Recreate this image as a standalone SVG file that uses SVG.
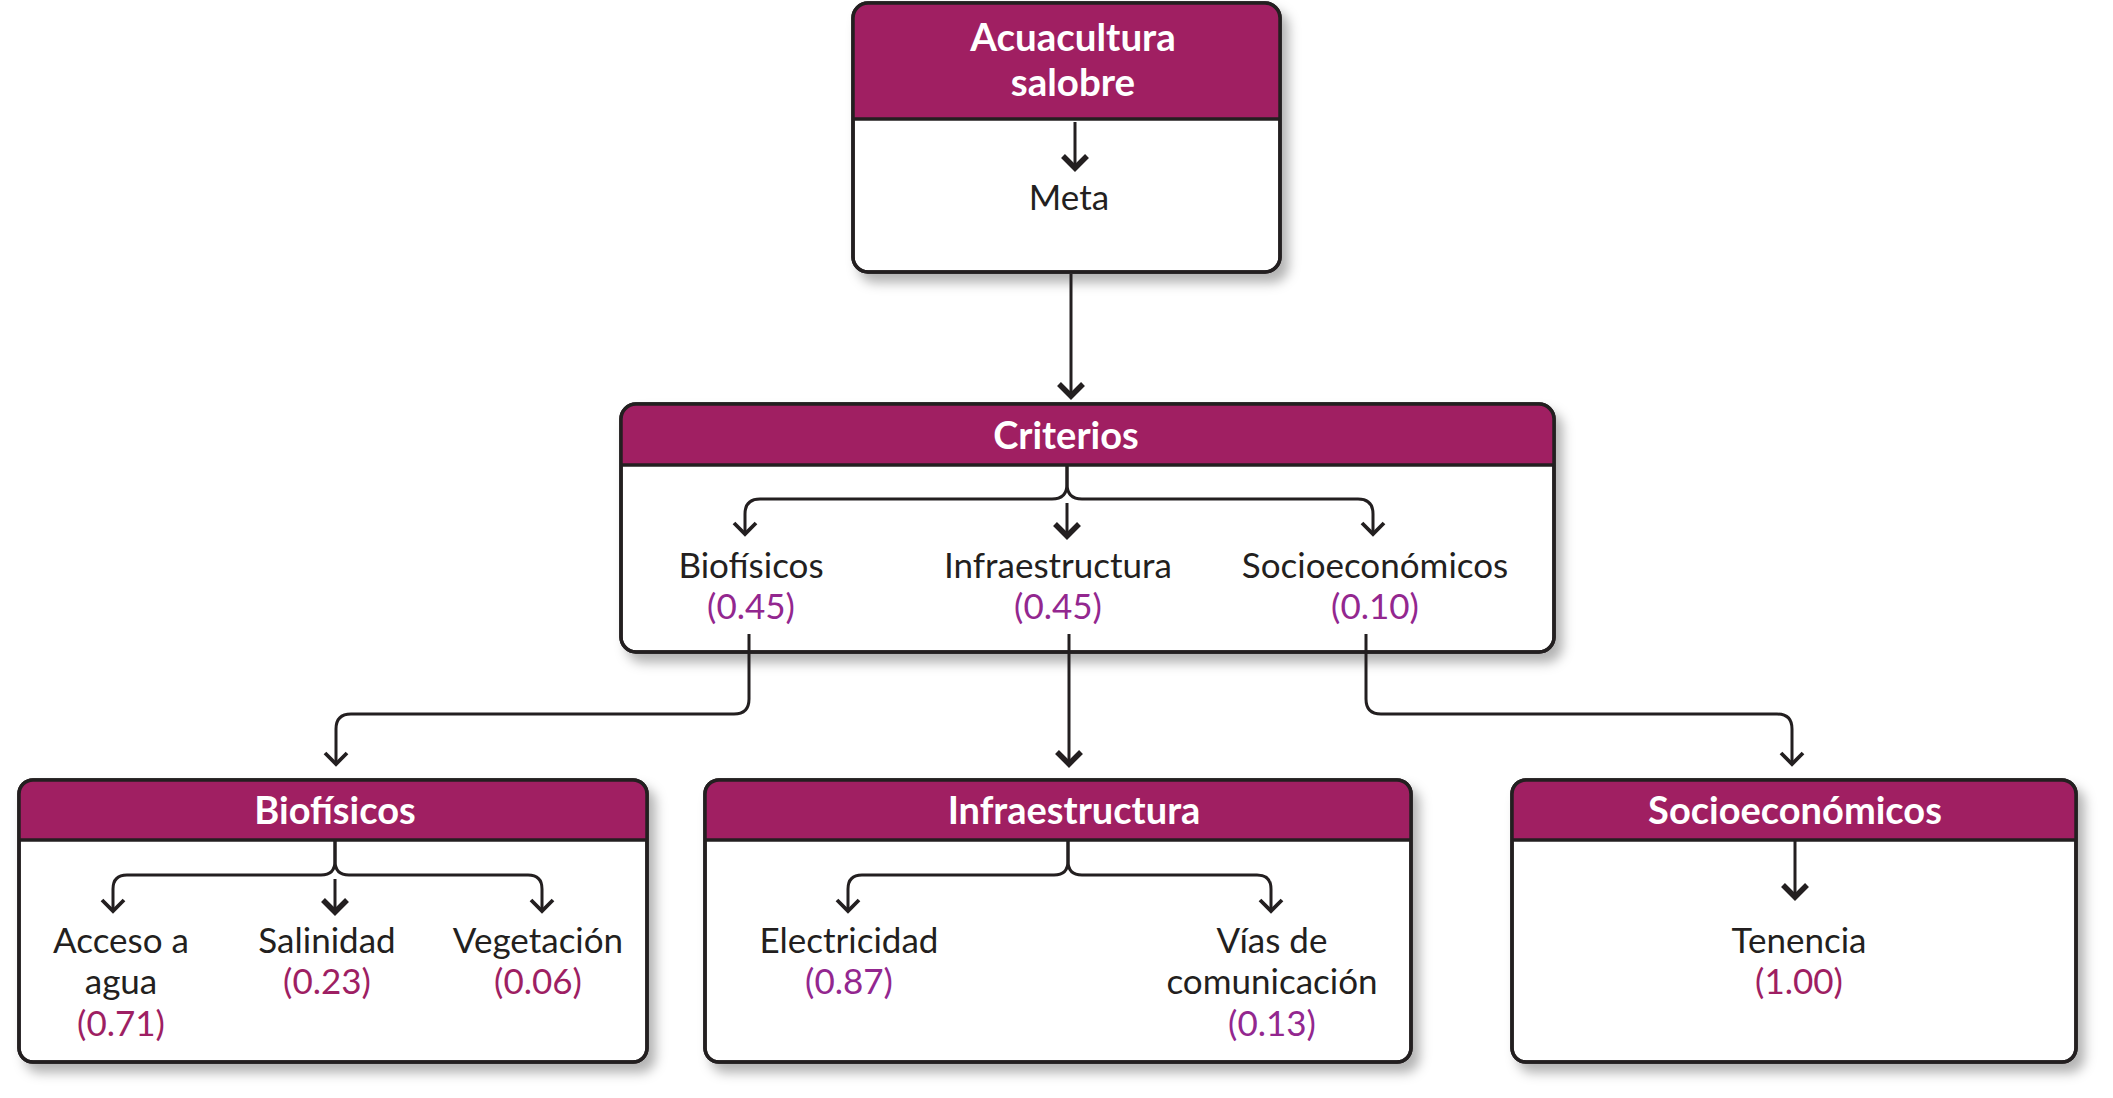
<svg xmlns="http://www.w3.org/2000/svg" width="2113" height="1098" viewBox="0 0 2113 1098">
<style>
.box{fill:#fff;stroke:#231F20;stroke-width:3.5}
.outline{fill:none;stroke:#231F20;stroke-width:3.5}
.hdr{fill:#A01F62}
.div{stroke:#231F20;stroke-width:3.5}
.title{font-family:Lato,"Open Sans",sans-serif;font-weight:bold;font-size:38px;fill:#fff;text-anchor:middle}
.lbl{font-family:Lato,"Open Sans",sans-serif;font-size:35px;fill:#231F20;text-anchor:middle}
.numv{font-family:Lato,"Open Sans",sans-serif;font-size:35px;fill:#93278F;text-anchor:middle}
.numc{font-family:Lato,"Open Sans",sans-serif;font-size:35px;fill:#9E1F63;text-anchor:middle}
.con{fill:none;stroke:#231F20;stroke-width:3}
.thin{marker-end:url(#arrowT)}
.thick{marker-end:url(#arrowB)}
</style>
<defs>
<filter id="sh" x="-10%" y="-10%" width="130%" height="140%">
<feDropShadow dx="7" dy="9" stdDeviation="6" flood-color="#000" flood-opacity="0.3"/>
</filter>
<marker id="arrowT" markerUnits="userSpaceOnUse" viewBox="-16 -16 32 32" markerWidth="32" markerHeight="32" refX="0" refY="0" orient="auto">
<path d="M-11,-11 L0,0 L-11,11" fill="none" stroke="#231F20" stroke-width="3.8"/>
</marker>
<marker id="arrowB" markerUnits="userSpaceOnUse" viewBox="-16 -16 32 32" markerWidth="32" markerHeight="32" refX="0" refY="0" orient="auto">
<path d="M-12,-12 L0,0 L-12,12" fill="none" stroke="#231F20" stroke-width="5.5"/>
</marker>
</defs>
<rect width="2113" height="1098" fill="#fff"/>

<g id="goal">
<rect class="box" x="853" y="3" width="427" height="269" rx="15" filter="url(#sh)"/>
<path class="hdr" d="M853,119 V18 Q853,3 868,3 H1265 Q1280,3 1280,18 V119 Z"/>
<line class="div" x1="853" y1="119" x2="1280" y2="119"/>
<rect class="outline" x="853" y="3" width="427" height="269" rx="15"/>
<text class="title" x="1073" y="51" style="font-size:38.5px">Acuacultura</text>
<text class="title" x="1073" y="96" style="font-size:38.5px">salobre</text>
<text class="lbl" x="1069" y="210">Meta</text>
</g>

<g id="criterios">
<rect class="box" x="621" y="404" width="933" height="248" rx="15" filter="url(#sh)"/>
<path class="hdr" d="M621,465 V419 Q621,404 636,404 H1539 Q1554,404 1554,419 V465 Z"/>
<line class="div" x1="621" y1="465" x2="1554" y2="465"/>
<rect class="outline" x="621" y="404" width="933" height="248" rx="15"/>
<text class="title" x="1066" y="449">Criterios</text>
<text class="lbl" x="751" y="578">Biofísicos</text>
<text class="numv" x="751" y="619">(0.45)</text>
<text class="lbl" x="1058" y="578">Infraestructura</text>
<text class="numv" x="1058" y="619">(0.45)</text>
<text class="lbl" x="1375" y="578">Socioeconómicos</text>
<text class="numv" x="1375" y="619">(0.10)</text>
</g>

<g id="biofisicos">
<rect class="box" x="19" y="780" width="628" height="282" rx="14" filter="url(#sh)"/>
<path class="hdr" d="M19,840 V794 Q19,780 33,780 H633 Q647,780 647,794 V840 Z"/>
<line class="div" x1="19" y1="840" x2="647" y2="840"/>
<rect class="outline" x="19" y="780" width="628" height="282" rx="14"/>
<text class="title" x="335" y="824">Biofísicos</text>
<text class="lbl" x="121" y="953">Acceso a</text>
<text class="lbl" x="121" y="994">agua</text>
<text class="numc" x="121" y="1036">(0.71)</text>
<text class="lbl" x="327" y="953">Salinidad</text>
<text class="numc" x="327" y="994">(0.23)</text>
<text class="lbl" x="538" y="953">Vegetación</text>
<text class="numc" x="538" y="994">(0.06)</text>
</g>

<g id="infraestructura">
<rect class="box" x="705" y="780" width="706" height="282" rx="14" filter="url(#sh)"/>
<path class="hdr" d="M705,840 V794 Q705,780 719,780 H1397 Q1411,780 1411,794 V840 Z"/>
<line class="div" x1="705" y1="840" x2="1411" y2="840"/>
<rect class="outline" x="705" y="780" width="706" height="282" rx="14"/>
<text class="title" x="1074" y="824">Infraestructura</text>
<text class="lbl" x="849" y="953">Electricidad</text>
<text class="numv" x="849" y="994">(0.87)</text>
<text class="lbl" x="1272" y="953">Vías de</text>
<text class="lbl" x="1272" y="994">comunicación</text>
<text class="numv" x="1272" y="1036">(0.13)</text>
</g>

<g id="socioeconomicos">
<rect class="box" x="1512" y="780" width="564" height="282" rx="14" filter="url(#sh)"/>
<path class="hdr" d="M1512,840 V794 Q1512,780 1526,780 H2062 Q2076,780 2076,794 V840 Z"/>
<line class="div" x1="1512" y1="840" x2="2076" y2="840"/>
<rect class="outline" x="1512" y="780" width="564" height="282" rx="14"/>
<text class="title" x="1795" y="824">Socioeconómicos</text>
<text class="lbl" x="1799" y="953">Tenencia</text>
<text class="numc" x="1799" y="994">(1.00)</text>
</g>

<g id="connectors">
<path class="con thick" d="M1075,122 V168"/>
<path class="con thick" d="M1071,274 V396"/>
<path class="con thin" d="M1067,466 V484 Q1067,499 1052,499 H760 Q745,499 745,514 V534"/>
<path class="con thin" d="M1067,466 V484 Q1067,499 1082,499 H1358 Q1373,499 1373,514 V534"/>
<path class="con thick" d="M1067,503 V536"/>
<path class="con thin" d="M749,634 V699 Q749,714 734,714 H351 Q336,714 336,729 V764"/>
<path class="con thick" d="M1069,634 V764"/>
<path class="con thin" d="M1366,634 V699 Q1366,714 1381,714 H1777 Q1792,714 1792,729 V764"/>
<path class="con thin" d="M335,841 V861 Q335,875 321,875 H127 Q113,875 113,889 V911"/>
<path class="con thin" d="M335,841 V861 Q335,875 349,875 H528 Q542,875 542,889 V911"/>
<path class="con thick" d="M335,879 V912"/>
<path class="con thin" d="M1068,841 V861 Q1068,875 1054,875 H862 Q848,875 848,889 V911"/>
<path class="con thin" d="M1068,841 V861 Q1068,875 1082,875 H1257 Q1271,875 1271,889 V911"/>
<path class="con thick" d="M1795,841 V897"/>
</g>
</svg>
